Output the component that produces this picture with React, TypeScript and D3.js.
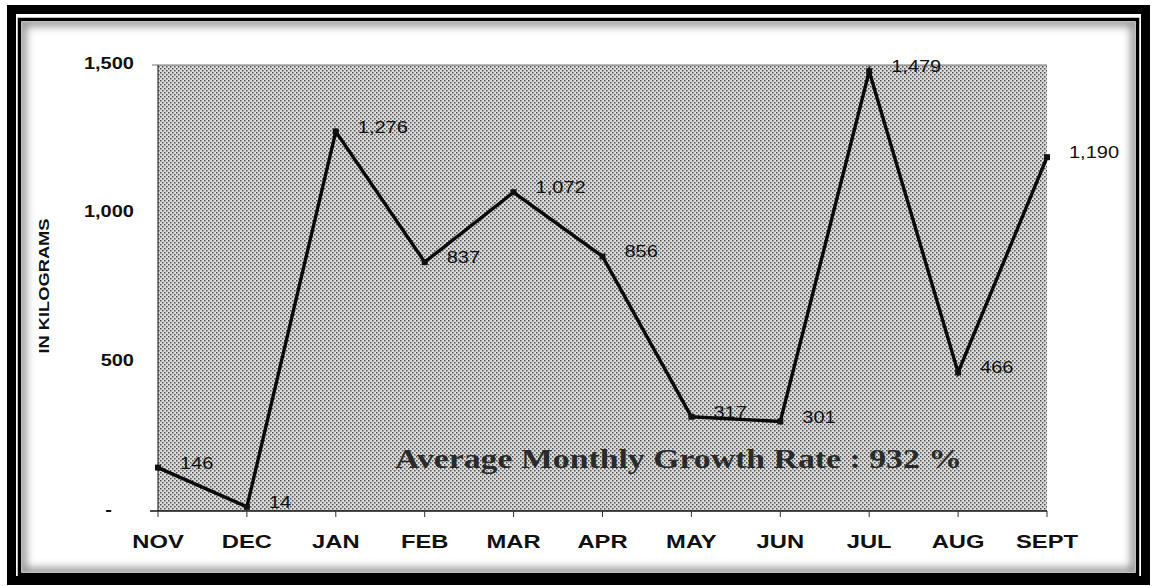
import * as d3 from "d3";
import { useEffect, useRef } from "react";

const months = ["NOV", "DEC", "JAN", "FEB", "MAR", "APR", "MAY", "JUN", "JUL", "AUG", "SEPT"];
const kilograms = [146, 14, 1276, 837, 1072, 856, 317, 301, 1479, 466, 1190];
const yTickValues = [0, 500, 1000, 1500];
const yAxisTitle = "IN KILOGRAMS";
const note = "Average Monthly Growth Rate : 932 %";

const W = 1152;
const H = 586;
// the scanned chart uses a wide sans face, so text is stretched sideways
const STRETCH = 1.25;
const SANS = "Liberation Sans, Arial, sans-serif";

const App = () => {
  const ref = useRef<SVGSVGElement | null>(null);

  useEffect(() => {
    const svg = d3.select(ref.current);
    svg.selectChildren().remove();

    const plot = { left: 158, right: 1047, top: 65, bottom: 511 };

    const x = d3.scalePoint<string>().domain(months).range([plot.left, plot.right]);
    const y = d3.scaleLinear().domain([0, 1500]).range([plot.bottom, plot.top]);

    const defs = svg.append("defs");

    const pat = defs
      .append("pattern")
      .attr("id", "stipple")
      .attr("patternUnits", "userSpaceOnUse")
      .attr("width", 4)
      .attr("height", 4);
    pat.append("rect").attr("width", 4).attr("height", 4).attr("fill", "#dcdcdc");
    pat.append("rect").attr("x", 0).attr("y", 0).attr("width", 1.5).attr("height", 1.5).attr("fill", "#505050");
    pat.append("rect").attr("x", 2).attr("y", 2).attr("width", 1.5).attr("height", 1.5).attr("fill", "#505050");

    const blur = defs.append("filter").attr("id", "soft").attr("x", "-5%").attr("y", "-5%").attr("width", "110%").attr("height", "110%");
    blur.append("feGaussianBlur").attr("stdDeviation", 4);

    defs
      .append("clipPath")
      .attr("id", "inner")
      .append("rect")
      .attr("x", 22)
      .attr("y", 22)
      .attr("width", 1113)
      .attr("height", 550);

    // background + frame
    svg.append("rect").attr("width", W).attr("height", H).attr("fill", "#ffffff");
    svg
      .append("rect")
      .attr("x", 11.5)
      .attr("y", 9.5)
      .attr("width", 1134)
      .attr("height", 571)
      .attr("fill", "none")
      .attr("stroke", "#000")
      .attr("stroke-width", 9);
    svg
      .append("g")
      .attr("clip-path", "url(#inner)")
      .append("rect")
      .attr("x", 22)
      .attr("y", 22)
      .attr("width", 1113)
      .attr("height", 550)
      .attr("fill", "none")
      .attr("stroke", "#8a8a8a")
      .attr("stroke-width", 8)
      .attr("filter", "url(#soft)");
    svg
      .append("rect")
      .attr("x", 19.5)
      .attr("y", 19.5)
      .attr("width", 1118)
      .attr("height", 555)
      .attr("fill", "none")
      .attr("stroke", "#000")
      .attr("stroke-width", 3.5);

    // plot area
    svg
      .append("rect")
      .attr("x", plot.left)
      .attr("y", plot.top)
      .attr("width", plot.right - plot.left)
      .attr("height", plot.bottom - plot.top)
      .attr("fill", "url(#stipple)");
    svg
      .append("line")
      .attr("x1", plot.left - 6)
      .attr("x2", plot.right)
      .attr("y1", plot.top)
      .attr("y2", plot.top)
      .attr("stroke", "#777")
      .attr("stroke-width", 1);
    svg
      .append("line")
      .attr("x1", plot.left)
      .attr("x2", plot.left)
      .attr("y1", plot.top)
      .attr("y2", plot.bottom)
      .attr("stroke", "#333")
      .attr("stroke-width", 1.2);

    // x axis
    const xAxis = svg.append("g");
    xAxis
      .append("line")
      .attr("x1", plot.left - 8)
      .attr("x2", plot.right)
      .attr("y1", plot.bottom)
      .attr("y2", plot.bottom)
      .attr("stroke", "#111")
      .attr("stroke-width", 1.5);
    xAxis
      .selectAll("line.tick")
      .data(months)
      .enter()
      .append("line")
      .attr("class", "tick")
      .attr("x1", (d) => x(d) as number)
      .attr("x2", (d) => x(d) as number)
      .attr("y1", plot.bottom)
      .attr("y2", plot.bottom + 6)
      .attr("stroke", "#333")
      .attr("stroke-width", 1);
    xAxis
      .selectAll("text")
      .data(months)
      .enter()
      .append("text")
      .attr("transform", (d) => `translate(${x(d)}, 548) scale(${STRETCH}, 1)`)
      .attr("text-anchor", "middle")
      .style("font-family", SANS)
      .style("font-weight", "bold")
      .style("font-size", "19px")
      .attr("fill", "#111")
      .text((d) => d);

    // y axis labels
    const fmt = d3.format(",");
    svg
      .append("g")
      .selectAll("text")
      .data(yTickValues)
      .enter()
      .append("text")
      .attr("transform", (d) => `translate(${d === 0 ? 112 : 134}, ${y(d) + 3.5}) scale(${STRETCH}, 1)`)
      .attr("text-anchor", "end")
      .style("font-family", SANS)
      .style("font-weight", "bold")
      .style("font-size", "16px")
      .attr("fill", "#111")
      .text((d) => (d === 0 ? "-" : fmt(d)));

    svg
      .append("text")
      .attr("transform", `translate(49, ${286 + 67.5}) rotate(-90)`)
      .attr("textLength", 135)
      .attr("lengthAdjust", "spacingAndGlyphs")
      .style("font-family", SANS)
      .style("font-weight", "bold")
      .style("font-size", "15px")
      .attr("fill", "#111")
      .text(yAxisTitle);

    // note
    svg
      .append("text")
      .attr("x", 395)
      .attr("y", 468)
      .attr("textLength", 567)
      .attr("lengthAdjust", "spacingAndGlyphs")
      .style("font-family", "Liberation Serif, Times New Roman, serif")
      .style("font-weight", "bold")
      .style("font-size", "27px")
      .attr("fill", "#2a2a2a")
      .text(note);

    // line
    const data = months.map((m, i) => ({ month: m, value: kilograms[i] }));
    const line = d3
      .line<{ month: string; value: number }>()
      .x((d) => x(d.month) as number)
      .y((d) => y(d.value));

    svg
      .append("path")
      .datum(data)
      .attr("d", line)
      .attr("fill", "none")
      .attr("stroke", "#0a0a0a")
      .attr("stroke-width", 3.4)
      .attr("stroke-linejoin", "miter");

    svg
      .append("g")
      .selectAll("rect")
      .data(data)
      .enter()
      .append("rect")
      .attr("x", (d) => (x(d.month) as number) - 3)
      .attr("y", (d) => y(d.value) - 3)
      .attr("width", 6)
      .attr("height", 6)
      .attr("fill", "#111");

    svg
      .append("g")
      .selectAll("text")
      .data(data)
      .enter()
      .append("text")
      .attr("transform", (d) => `translate(${(x(d.month) as number) + 22}, ${y(d.value) + 1}) scale(${STRETCH}, 1)`)
      .style("font-family", SANS)
      .style("font-size", "16px")
      .attr("fill", "#111")
      .text((d) => fmt(d.value));
  }, []);

  return (
    <div style={{ position: "absolute", left: 0, top: 0 }}>
      <svg ref={ref} width={W} height={H} style={{ display: "block" }} />
    </div>
  );
};

export default App;
